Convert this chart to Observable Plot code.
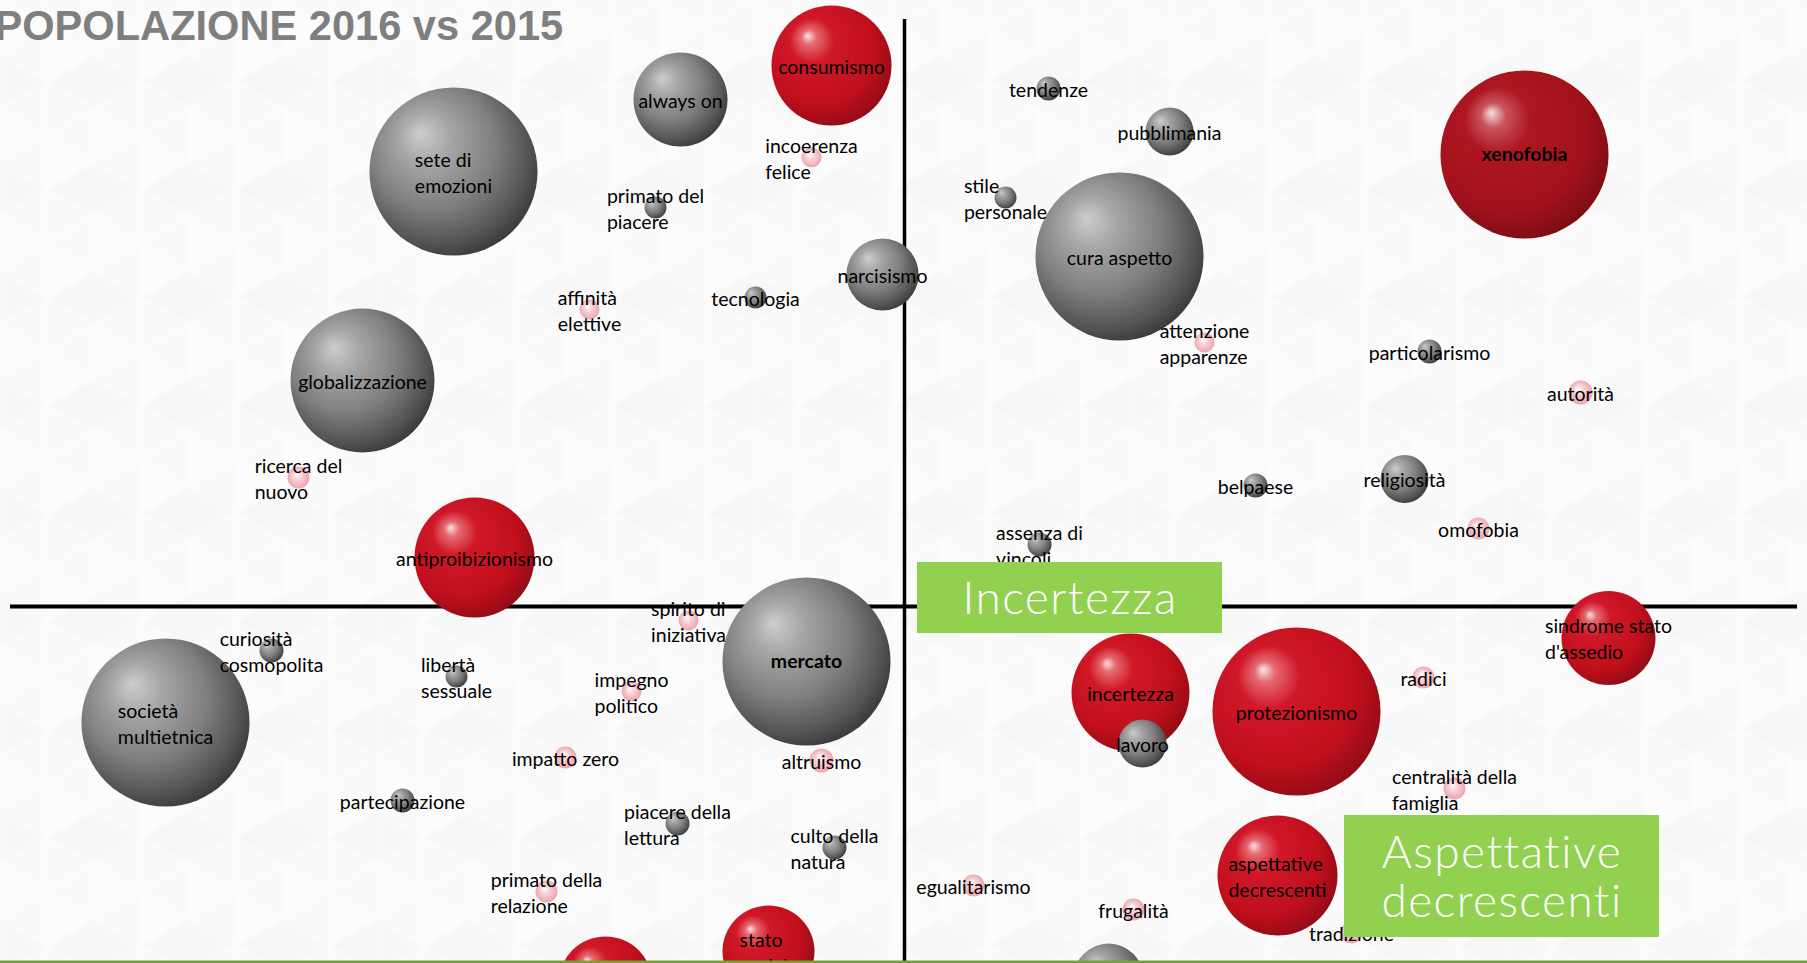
<!DOCTYPE html>
<html><head><meta charset="utf-8">
<script src="https://cdn.jsdelivr.net/npm/d3@7"></script>
<script src="https://cdn.jsdelivr.net/npm/@observablehq/plot@0.6"></script>
<style>
html,body{margin:0;padding:0;overflow:hidden;background:#fafafa;}
#chart{position:relative;width:1807px;height:963px;}
g[aria-description="gruppi"] text{letter-spacing:1.4px;}
</style></head><body><div id="chart"></div>
<script>
const titolo = "POPOLAZIONE 2016 vs 2015";

// Bubbles: name, x (horizontal position), y (vertical position), weight (area), type
const nomi = [
  "consumismo","always on","sete di\nemozioni","incoerenza\nfelice","primato del\npiacere","tecnologia",
  "affinità\nelettive","narcisismo","globalizzazione","ricerca del\nnuovo","antiproibizionismo","spirito di\niniziativa",
  "tendenze","pubblimania","stile\npersonale","cura aspetto","xenofobia","attenzione\napparenze",
  "particolarismo","autorità","belpaese","religiosità","omofobia","assenza di\nvincoli",
  "sindrome stato\nd'assedio","incertezza","lavoro","protezionismo","radici","centralità della\nfamiglia",
  "aspettative\ndecrescenti","egualitarismo","frugalità","tradizione","","stato\nsociale","",
  "curiosità\ncosmopolita","società\nmultietnica","libertà\nsessuale","impegno\npolitico","mercato","impatto zero",
  "altruismo","partecipazione","piacere della\nlettura","culto della\nnatura","primato della\nrelazione"
];
const ascisse = [
  -7.3,-22.4,-45.1,-9.3,-24.9,-14.9,
  -31.5,-2.2,-54.2,-60.6,-43.0,-21.6,
  14.4,26.5,10.1,21.5,62.0,30.0,
  52.5,67.6,35.1,50.0,57.4,13.5,
  70.4,22.6,23.8,39.2,51.9,55.0,
  37.3,6.9,22.9,44.7,20.4,-13.6,-29.9,
  -63.3,-73.9,-44.8,-27.3,-9.8,-33.9,
  -8.3,-50.2,-22.7,-7.0,-35.8
];
const ordinate = [
  54.1,50.7,43.5,44.9,39.9,30.9,
  29.7,33.2,22.6,12.9,4.9,-1.4,
  51.8,47.5,40.9,35.0,45.2,26.4,
  25.5,21.4,12.1,12.75,7.8,6.2,
  -3.15,-8.6,-13.7,-10.5,-7.1,-18.2,
  -26.9,-27.9,-30.3,-32.6,-37.2,-34.5,-37.7,
  -4.4,-11.6,-7.0,-8.5,-5.5,-15.1,
  -15.4,-19.4,-21.7,-24.1,-28.5
];
const pesi = [
  36,22.1,70.6,1.0,1.2,1.2,
  1.0,13,51.8,1.2,36,1.0,
  1.44,5.76,1.2,70.6,70.6,1.0,
  1.44,1.44,1.44,5.76,1.2,1.44,
  22.1,34.8,5.76,70.6,1.2,1.2,
  36,1.2,1.2,1.2,12.25,21.2,22.1,
  1.44,70.6,1.2,1.0,70.6,1.2,
  1.44,1.44,1.44,1.44,1.2
];
const tipi = [
  "crescita","stabile","stabile","calo","stabile","stabile",
  "calo","stabile","stabile","calo","crescita","calo",
  "stabile","stabile","stabile","stabile","crescita forte","calo",
  "stabile","calo","stabile","stabile","calo","stabile",
  "crescita","crescita","stabile","crescita","calo","calo",
  "crescita","calo","calo","calo","stabile","crescita","crescita",
  "stabile","stabile","stabile","calo","stabile","calo",
  "calo","stabile","stabile","stabile","calo"
];
const evidenziati = ["xenofobia","mercato"];

// Cluster labels (green boxes) in data units
const gruppiNomi = ["Incertezza","Aspettative\ndecrescenti"];
const gruppiX1 = [1.3, 44.0];
const gruppiX2 = [31.8, 75.5];
const gruppiY1 = [-2.7, -33.1];
const gruppiY2 = [4.4, -20.9];

const xDominio = [-90.4, 90.3];
const yDominio = [-35.7, 60.6];
const assiEstensioneX = [-89.4, 89.3];
const assiEstensioneY = [-35.7, 58.7];

const bolle = nomi.map((nome, i) => ({nome, x: ascisse[i], y: ordinate[i], peso: pesi[i], tipo: tipi[i]}));
const gruppi = gruppiNomi.map((nome, i) => ({nome, x1: gruppiX1[i], x2: gruppiX2[i], y1: gruppiY1[i], y2: gruppiY2[i],
  xc: (gruppiX1[i] + gruppiX2[i]) / 2, yc: (gruppiY1[i] + gruppiY2[i]) / 2}));

const fontEtichette = "Lato, 'Open Sans', sans-serif";

const chart = Plot.plot({
  width: 1807,
  height: 963,
  margin: 0,
  x: {domain: xDominio, axis: null},
  y: {domain: yDominio, axis: null},
  r: {type: "sqrt", domain: [0, 100], range: [0, 100]},
  color: {domain: ["crescita","crescita forte","stabile","calo"],
          range: ["url(#gRosso)","url(#gRossoScuro)","url(#gGrigio)","url(#gRosa)"]},
  style: {background: "transparent", overflow: "hidden"},
  marks: [
    Plot.frame({fill: "url(#motivo)", stroke: "none"}),
    Plot.ruleX([0], {y1: assiEstensioneY[1], y2: assiEstensioneY[0], stroke: "#000", strokeWidth: 3.5}),
    Plot.ruleY([0], {x1: assiEstensioneX[0], x2: assiEstensioneX[1], stroke: "#000", strokeWidth: 4}),
    Plot.dot(bolle, {x: "x", y: "y", r: "peso", fill: "tipo", stroke: "none"}),
    Plot.text(bolle.filter(d => !evidenziati.includes(d.nome)), {
      x: "x", y: "y", text: "nome", textAnchor: "start", lineAnchor: "middle",
      fontSize: 19.5, lineHeight: 1.34, fontFamily: fontEtichette, fill: "#000", ariaDescription: "etichette"
    }),
    Plot.text(bolle.filter(d => evidenziati.includes(d.nome)), {
      x: "x", y: "y", text: "nome", textAnchor: "start", lineAnchor: "middle",
      fontSize: 19.5, fontWeight: "bold", fontFamily: fontEtichette, fill: "#000", ariaDescription: "etichette"
    }),
    Plot.rect(gruppi, {x1: "x1", x2: "x2", y1: "y1", y2: "y2", fill: "#92d050"}),
    Plot.text(gruppi, {
      x: "xc", y: "yc", text: "nome", textAnchor: "middle", lineAnchor: "middle",
      fontSize: 46, fontWeight: 300, lineHeight: 1.08, fontFamily: "Lato, 'Open Sans', sans-serif", fill: "#fff",
      ariaDescription: "gruppi"
    }),
    Plot.text([titolo], {
      text: d => d, frameAnchor: "top-left", textAnchor: "start", lineAnchor: "bottom",
      dx: -6, dy: 39, fontSize: 41.6, fontWeight: "bold",
      fontFamily: "'Liberation Sans', Arial, sans-serif", fill: "#7f7f7f"
    }),
    Plot.ruleY([yDominio[0]], {stroke: "#77a03c", strokeWidth: 6})
  ]
});

const defs = document.createElementNS("http://www.w3.org/2000/svg", "defs");
defs.innerHTML = `
<pattern id="motivo" patternUnits="userSpaceOnUse" width="94" height="108">
  <rect width="94" height="108" fill="#fafafa"/>
  <polygon points="0,0 47,27 0,54" fill="#fcfcfc"/>
  <polygon points="47,27 94,54 47,81" fill="#fcfcfc"/>
  <polygon points="94,54 47,81 94,108" fill="#f7f7f7"/>
  <polygon points="0,54 47,81 0,108" fill="#f8f8f8"/>
  <g stroke="#fdfdfd" stroke-width="1.2" fill="none">
    <line x1="0" y1="0" x2="0" y2="108"/>
    <line x1="47" y1="0" x2="47" y2="108"/>
    <line x1="0" y1="0" x2="94" y2="54"/>
    <line x1="0" y1="54" x2="94" y2="108"/>
    <line x1="0" y1="54" x2="94" y2="0"/>
    <line x1="0" y1="108" x2="94" y2="54"/>
  </g>
</pattern>
<radialGradient id="gGrigio" cx="0.42" cy="0.4" r="0.62" fx="0.3" fy="0.27">
  <stop offset="0" stop-color="#cdcdcd"/>
  <stop offset="0.25" stop-color="#a6a6a6"/>
  <stop offset="0.6" stop-color="#7f7f7f"/>
  <stop offset="0.87" stop-color="#555555"/>
  <stop offset="1" stop-color="#3c3c3c"/>
</radialGradient>
<radialGradient id="gRosso" cx="0.42" cy="0.4" r="0.62" fx="0.3" fy="0.25">
  <stop offset="0" stop-color="#fbe4e4"/>
  <stop offset="0.1" stop-color="#e56a72"/>
  <stop offset="0.3" stop-color="#d01828"/>
  <stop offset="0.75" stop-color="#c10f1c"/>
  <stop offset="1" stop-color="#940c16"/>
</radialGradient>
<radialGradient id="gRossoScuro" cx="0.42" cy="0.4" r="0.62" fx="0.3" fy="0.25">
  <stop offset="0" stop-color="#f6e2e3"/>
  <stop offset="0.12" stop-color="#c9545c"/>
  <stop offset="0.32" stop-color="#ae1620"/>
  <stop offset="0.75" stop-color="#a3121c"/>
  <stop offset="1" stop-color="#7e0d14"/>
</radialGradient>
<radialGradient id="gRosa" cx="0.5" cy="0.5" r="0.55" fx="0.4" fy="0.35">
  <stop offset="0" stop-color="#ffffff"/>
  <stop offset="0.4" stop-color="#f8d0d5"/>
  <stop offset="1" stop-color="#ec9ea7"/>
</radialGradient>`;
chart.insertBefore(defs, chart.firstChild);

document.getElementById("chart").appendChild(chart);

// Center each label block on its bubble, keeping lines left-aligned
chart.querySelectorAll('g[aria-description="etichette"] text').forEach(t => {
  const w = t.getBBox().width;
  t.setAttribute("transform", (t.getAttribute("transform") || "") + ` translate(${-w / 2},0)`);
});
</script>
</body></html>
